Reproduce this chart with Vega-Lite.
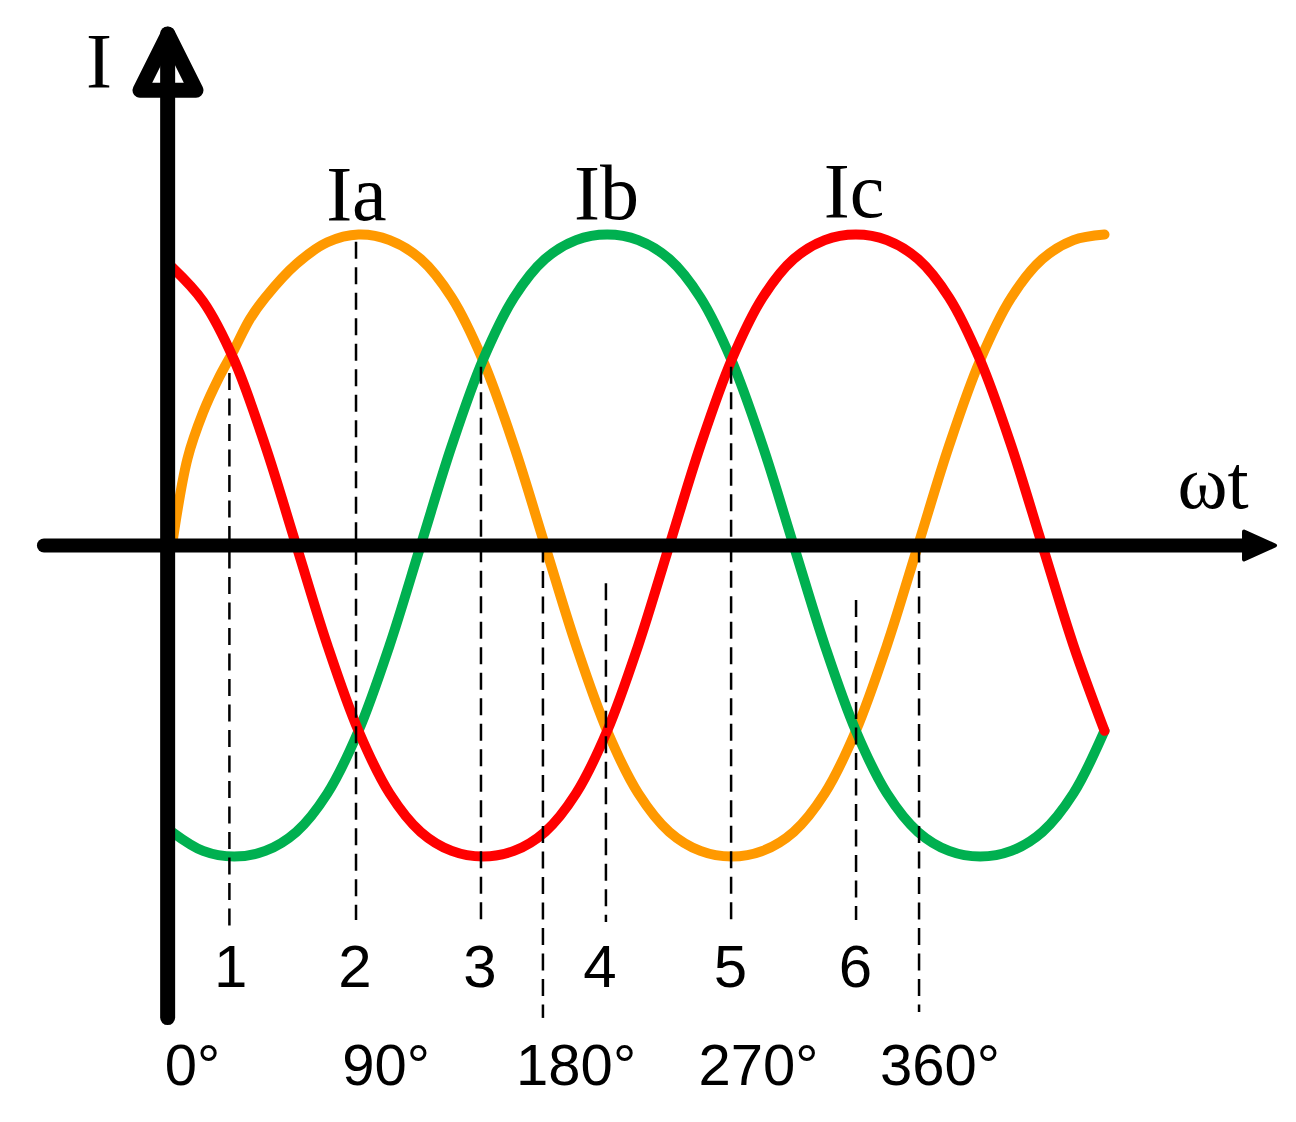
{
  "$schema": "https://vega.github.io/schema/vega-lite/v6.json",
  "width": 1296,
  "height": 1122,
  "autosize": {"type": "none"},
  "padding": 0,
  "background": "white",
  "config": {"view": {"stroke": null}},
  "datasets": {
    "ia": [
      {"angle": 0, "current": 0}, {"angle": 7.5, "current": 0.28}, {"angle": 15, "current": 0.428},
      {"angle": 22.5, "current": 0.538}, {"angle": 30, "current": 0.63}, {"angle": 37.5, "current": 0.727},
      {"angle": 45, "current": 0.797}, {"angle": 60, "current": 0.905},
      {"angle": 75, "current": 0.975}, {"angle": 90, "current": 1}, {"angle": 105, "current": 0.982},
      {"angle": 120, "current": 0.921}, {"angle": 135, "current": 0.797}, {"angle": 150, "current": 0.596},
      {"angle": 165, "current": 0.321}, {"angle": 180, "current": 0}, {"angle": 195, "current": -0.321},
      {"angle": 210, "current": -0.596}, {"angle": 225, "current": -0.797}, {"angle": 240, "current": -0.921},
      {"angle": 255, "current": -0.982}, {"angle": 270, "current": -1}, {"angle": 285, "current": -0.982},
      {"angle": 300, "current": -0.921}, {"angle": 315, "current": -0.797}, {"angle": 330, "current": -0.596},
      {"angle": 345, "current": -0.321}, {"angle": 360, "current": 0}, {"angle": 375, "current": 0.321},
      {"angle": 390, "current": 0.596}, {"angle": 405, "current": 0.797}, {"angle": 420, "current": 0.921},
      {"angle": 435, "current": 0.982}, {"angle": 450, "current": 1}
    ],
    "ib": [
      {"angle": 0, "current": -0.921}, {"angle": 15, "current": -0.982}, {"angle": 30, "current": -1},
      {"angle": 45, "current": -0.982}, {"angle": 60, "current": -0.921}, {"angle": 75, "current": -0.797},
      {"angle": 90, "current": -0.596}, {"angle": 105, "current": -0.321}, {"angle": 120, "current": 0},
      {"angle": 135, "current": 0.321}, {"angle": 150, "current": 0.596}, {"angle": 165, "current": 0.797},
      {"angle": 180, "current": 0.921}, {"angle": 195, "current": 0.982}, {"angle": 210, "current": 1},
      {"angle": 225, "current": 0.982}, {"angle": 240, "current": 0.921}, {"angle": 255, "current": 0.797},
      {"angle": 270, "current": 0.596}, {"angle": 285, "current": 0.321}, {"angle": 300, "current": 0},
      {"angle": 315, "current": -0.321}, {"angle": 330, "current": -0.596}, {"angle": 345, "current": -0.797},
      {"angle": 360, "current": -0.921}, {"angle": 375, "current": -0.982}, {"angle": 390, "current": -1},
      {"angle": 405, "current": -0.982}, {"angle": 420, "current": -0.921}, {"angle": 435, "current": -0.797},
      {"angle": 450, "current": -0.596}
    ],
    "ic": [
      {"angle": 0, "current": 0.895}, {"angle": 15, "current": 0.785}, {"angle": 30, "current": 0.596},
      {"angle": 45, "current": 0.321}, {"angle": 60, "current": 0}, {"angle": 75, "current": -0.321},
      {"angle": 90, "current": -0.596}, {"angle": 105, "current": -0.797}, {"angle": 120, "current": -0.921},
      {"angle": 135, "current": -0.982}, {"angle": 150, "current": -1}, {"angle": 165, "current": -0.982},
      {"angle": 180, "current": -0.921}, {"angle": 195, "current": -0.797}, {"angle": 210, "current": -0.596},
      {"angle": 225, "current": -0.321}, {"angle": 240, "current": 0}, {"angle": 255, "current": 0.321},
      {"angle": 270, "current": 0.596}, {"angle": 285, "current": 0.797}, {"angle": 300, "current": 0.921},
      {"angle": 315, "current": 0.982}, {"angle": 330, "current": 1}, {"angle": 345, "current": 0.982},
      {"angle": 360, "current": 0.921}, {"angle": 375, "current": 0.797}, {"angle": 390, "current": 0.596},
      {"angle": 405, "current": 0.321}, {"angle": 420, "current": 0}, {"angle": 435, "current": -0.321},
      {"angle": 450, "current": -0.596}
    ],
    "guides": [
      {"angle": 27.7, "top": 0.555, "bottom": -1.227},
      {"angle": 88.8, "top": 0.977, "bottom": -1.204},
      {"angle": 149.1, "top": 0.575, "bottom": -1.22},
      {"angle": 179.0, "top": 0, "bottom": -1.519},
      {"angle": 209.4, "top": -0.121, "bottom": -1.211},
      {"angle": 269.8, "top": 0.575, "bottom": -1.207},
      {"angle": 330.1, "top": -0.175, "bottom": -1.204},
      {"angle": 360.5, "top": 0, "bottom": -1.5}
    ],
    "numbers": [
      {"label": "1", "angle": 28.3},
      {"label": "2", "angle": 88.3},
      {"label": "3", "angle": 148.6},
      {"label": "4", "angle": 206.5},
      {"label": "5", "angle": 269.5},
      {"label": "6", "angle": 329.8}
    ],
    "degrees": [
      {"label": "0°", "angle": 9.9},
      {"label": "90°", "angle": 103.3},
      {"label": "180°", "angle": 195.0},
      {"label": "270°", "angle": 283.0},
      {"label": "360°", "angle": 370.6}
    ],
    "names": [
      {"label": "Ia", "angle": 89.0, "level": 1.0466},
      {"label": "Ib", "angle": 209.7, "level": 1.0489},
      {"label": "Ic", "angle": 329.1, "level": 1.0572}
    ]
  },
  "layer": [
    {
      "data": {"name": "ia"},
      "mark": {"type": "line", "interpolate": "catmull-rom", "color": "#FF9900", "strokeWidth": 10, "strokeCap": "round", "strokeJoin": "round", "clip": false},
      "encoding": {
        "x": {"field": "angle", "type": "quantitative", "scale": {"domain": [-83, 542.4], "nice": false, "zero": false}, "axis": null},
        "y": {"field": "current", "type": "quantitative", "scale": {"domain": [-1.8537, 1.754], "nice": false, "zero": false}, "axis": null}
      }
    },
    {
      "data": {"name": "ib"},
      "mark": {"type": "line", "interpolate": "catmull-rom", "color": "#00B050", "strokeWidth": 10, "strokeCap": "round", "strokeJoin": "round", "clip": false},
      "encoding": {
        "x": {"field": "angle", "type": "quantitative", "axis": null},
        "y": {"field": "current", "type": "quantitative", "axis": null}
      }
    },
    {
      "data": {"name": "ic"},
      "mark": {"type": "line", "interpolate": "catmull-rom", "color": "#FF0000", "strokeWidth": 10, "strokeCap": "round", "strokeJoin": "round", "clip": false},
      "encoding": {
        "x": {"field": "angle", "type": "quantitative", "axis": null},
        "y": {"field": "current", "type": "quantitative", "axis": null}
      }
    },
    {
      "data": {"values": [{}]},
      "mark": {"type": "rule", "color": "black", "strokeWidth": 14, "strokeCap": "round"},
      "encoding": {
        "x": {"datum": -61.8, "type": "quantitative"},
        "x2": {"datum": 520},
        "y": {"datum": 0, "type": "quantitative"}
      }
    },
    {
      "data": {"values": [{}]},
      "mark": {"type": "rule", "color": "black", "strokeWidth": 15, "strokeCap": "round"},
      "encoding": {
        "x": {"datum": -2.1, "type": "quantitative"},
        "y": {"datum": -1.518, "type": "quantitative"},
        "y2": {"datum": 1.645}
      }
    },
    {
      "data": {"values": [{}]},
      "mark": {"type": "point", "shape": "M-1,-0.9L1,0L-1,0.9Z", "size": 961, "filled": true, "color": "black", "stroke": "black", "strokeWidth": 4, "strokeJoin": "round", "opacity": 1},
      "encoding": {
        "x": {"datum": 524.8, "type": "quantitative"},
        "y": {"datum": 0, "type": "quantitative"}
      }
    },
    {
      "data": {"values": [{}]},
      "mark": {"type": "point", "shape": "M0,-1L-1,1L1,1Z", "size": 3136, "filled": false, "stroke": "black", "strokeWidth": 15, "strokeJoin": "round", "opacity": 1},
      "encoding": {
        "x": {"datum": -1.93, "type": "quantitative"},
        "y": {"datum": 1.5537, "type": "quantitative"}
      }
    },
    {
      "data": {"name": "guides"},
      "mark": {"type": "rule", "color": "black", "strokeWidth": 2.5, "strokeDash": [17, 8.5]},
      "encoding": {
        "x": {"field": "angle", "type": "quantitative"},
        "y": {"field": "top", "type": "quantitative"},
        "y2": {"field": "bottom"}
      }
    },
    {
      "data": {"name": "numbers"},
      "mark": {"type": "text", "font": "Liberation Sans", "fontSize": 60, "align": "center", "baseline": "alphabetic", "color": "black"},
      "encoding": {
        "x": {"field": "angle", "type": "quantitative"},
        "y": {"datum": -1.4186, "type": "quantitative"},
        "text": {"field": "label"}
      }
    },
    {
      "data": {"name": "degrees"},
      "mark": {"type": "text", "font": "Liberation Sans", "fontSize": 58, "align": "center", "baseline": "alphabetic", "color": "black"},
      "encoding": {
        "x": {"field": "angle", "type": "quantitative"},
        "y": {"datum": -1.7347, "type": "quantitative"},
        "text": {"field": "label"}
      }
    },
    {
      "data": {"name": "names"},
      "mark": {"type": "text", "font": "Liberation Serif", "fontSize": 78, "align": "center", "baseline": "alphabetic", "color": "black"},
      "encoding": {
        "x": {"field": "angle", "type": "quantitative"},
        "y": {"field": "level", "type": "quantitative"},
        "text": {"field": "label"}
      }
    },
    {
      "data": {"values": [{}]},
      "mark": {"type": "text", "font": "Liberation Serif", "fontSize": 78, "align": "center", "baseline": "alphabetic", "color": "black", "text": "I"},
      "encoding": {
        "x": {"datum": -35.2, "type": "quantitative"},
        "y": {"datum": 1.4743, "type": "quantitative"}
      }
    },
    {
      "data": {"values": [{}]},
      "mark": {"type": "text", "font": "Liberation Serif", "fontSize": 76, "align": "center", "baseline": "alphabetic", "color": "black", "text": "ωt"},
      "encoding": {
        "x": {"datum": 502.4, "type": "quantitative"},
        "y": {"datum": 0.1206, "type": "quantitative"}
      }
    }
  ]
}
